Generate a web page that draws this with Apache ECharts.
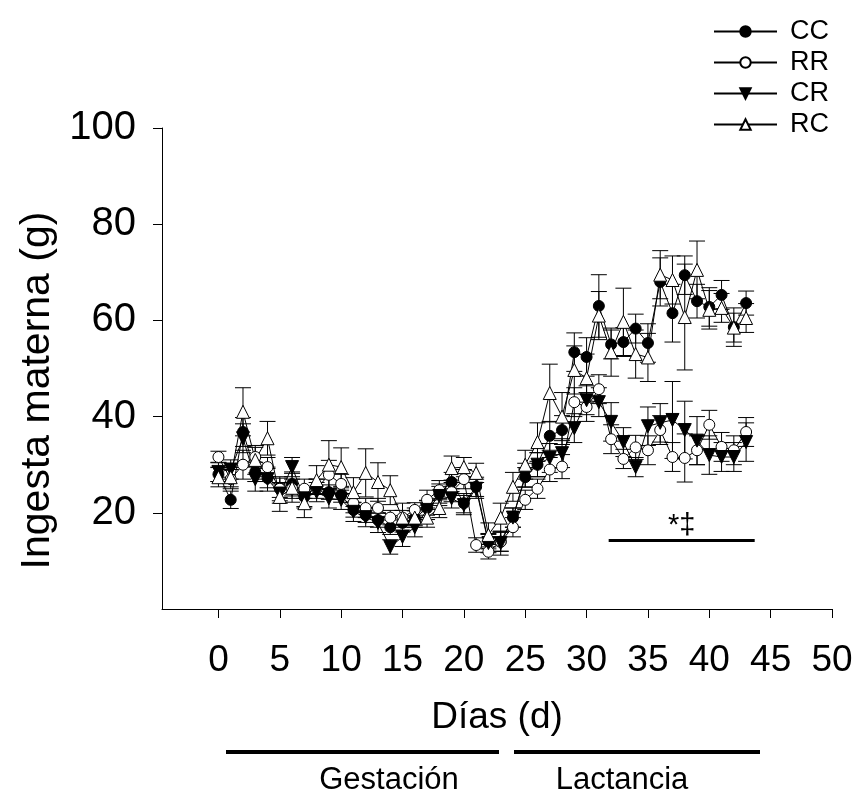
<!DOCTYPE html>
<html>
<head>
<meta charset="utf-8">
<script src="https://cdn.jsdelivr.net/npm/echarts@6/dist/echarts.min.js"></script>
<style>
  html, body { margin: 0; padding: 0; background: #fff; }
  #main { width: 858px; height: 797px; }
</style>
</head>
<body>
<div id="main"></div>
<script>
// days of measurement
var days = [];
for (var d = 0; d <= 43; d++) { days.push(d); }

// mean maternal intake (g) per group
var ccVals = [28, 22.7, 36.8, 28.5, 27.2, 25.2, 26, 23.3, 25.5, 24.3, 23.7, 20.6, 19.5, 18.5, 17, 17.9, 18.9, 21, 24, 26.4, 22, 25.4, 14, 14,
    19, 27.4, 30, 36, 37.2, 53.4, 52.4, 63, 55, 55.5, 58.3, 55.3, 68, 61.5, 69.4, 64, 62.8, 65.3, 58.6, 63.6];
var rrVals = [31.6, 27, 30, 31.6, 29.5, 25, 25, 25, 25, 27.9, 26, 22, 21, 21, 19, 19, 20.6, 22.7, 24.7, 24.3, 27, 13.3, 11.9, 14,
    17, 22.7, 25, 29, 29.6, 43, 42, 45.7, 35.3, 31.2, 33.6, 33, 37.2, 31.6, 31.4, 33, 38.3, 33.7, 33, 36.8];
var crVals = [28.5, 29, 35.5, 27, 27, 24, 29.5, 23, 24.3, 23, 22.7, 20.2, 19.1, 17.9, 12.9, 15, 17, 20.6, 23.5, 23, 21.6, 25, 13.7, 13.7,
    19, 27.8, 30, 31.4, 32.4, 37.6, 43.4, 43, 38.9, 34.7, 29.5, 38, 38.7, 39.3, 37.2, 35, 32, 31.6, 31.6, 34.7];
var rcVals = [27.4, 27.4, 41, 31, 35.5, 23.3, 25.2, 22, 26.8, 30, 29.5, 24.3, 28.3, 26.4, 24.7, 19, 19, 19, 21, 29.3, 29.5, 28.3, 15.4, 19,
    25.4, 30, 34.7, 44.9, 40, 49.7, 48, 61, 53.4, 59.7, 53, 52.3, 69.5, 68.4, 60.7, 70.5, 62.2, 62.6, 58.5, 60.5];

// standard errors
var ccErr = [1.5, 1.8, 3, 2, 2, 2, 2.5, 2, 1.5, 1.5, 1.5, 1.5, 1.5, 1.5, 1.5, 1.5, 1.5, 1.5, 2, 2, 2, 2, 1.5, 2,
    2, 2, 2.5, 3, 3, 4, 4, 6.5, 3, 3, 3, 4, 5, 6, 4, 3.5, 4, 3, 4, 2.5];
var rrErr = [1.2, 2, 3, 2, 2, 2.5, 2, 2, 2, 3, 2, 2, 2, 2, 1.5, 1.5, 1.5, 2, 2, 2, 2, 1.5, 1.5, 2,
    2, 2, 2, 2.5, 2.5, 3, 3, 3, 3, 2, 2.5, 3, 3, 3, 5, 3, 3, 3, 3, 3];
var crErr = [2, 2, 3, 2.5, 2.5, 2, 2, 2, 2, 2, 2, 2, 2, 2, 1.5, 2, 2, 2, 2, 2, 2, 2, 2, 2.5,
    2, 2.5, 2.5, 3, 3, 3, 3, 3, 4, 3, 2, 4, 4, 8, 6, 5, 4, 3, 3, 4];
var rcErr = [2, 2, 5, 3, 3.5, 3, 3, 3, 3, 5, 4, 3, 5, 4, 3, 3, 2, 2, 2, 2.5, 2, 2, 2.5, 3,
    3, 3, 4, 6, 5, 5, 5, 5, 5, 7, 5, 5, 5, 5, 11, 6, 4, 3, 3, 3];

var xTicks = [0, 5, 10, 15, 20, 25, 30, 35, 40, 45, 50];
var yTicks = [20, 40, 60, 80, 100];
var groups = ['CC', 'RR', 'CR', 'RC'];

var FONT = 'Liberation Sans, Arial, sans-serif';

var pairs = function (vals) {
    return days.map(function (d, i) { return [d, vals[i]]; });
};
var errRows = function (vals, errs) {
    return days.map(function (d, i) { return [d, vals[i] - errs[i], vals[i] + errs[i]]; });
};

var errorSeries = function (name, vals, errs) {
    return {
        type: 'custom',
        name: name + '_err',
        z: 1,
        silent: true,
        data: errRows(vals, errs),
        renderItem: function (params, api) {
            var lo = api.coord([api.value(0), api.value(1)]);
            var hi = api.coord([api.value(0), api.value(2)]);
            var w = 8;
            var st = { stroke: '#000', lineWidth: 1 };
            return {
                type: 'group',
                children: [
                    { type: 'line', shape: { x1: hi[0], y1: hi[1], x2: lo[0], y2: lo[1] }, style: st },
                    { type: 'line', shape: { x1: hi[0] - w, y1: hi[1], x2: hi[0] + w, y2: hi[1] }, style: st },
                    { type: 'line', shape: { x1: lo[0] - w, y1: lo[1], x2: lo[0] + w, y2: lo[1] }, style: st }
                ]
            };
        }
    };
};

var lineSeries = function (name, vals, symbol, rotate, fill, size) {
    return {
        type: 'line',
        name: name,
        z: 3,
        data: pairs(vals),
        symbol: symbol,
        symbolSize: size,
        symbolRotate: rotate,
        showAllSymbol: true,
        lineStyle: { color: '#000', width: 1 },
        itemStyle: { color: fill, borderColor: '#000', borderWidth: 1 },
        emphasis: { disabled: true }
    };
};

var chart = echarts.init(document.getElementById('main'));

var rcLine = lineSeries('RC', rcVals, 'triangle', 0, '#fff', 13);
rcLine.markLine = {
    silent: true,
    symbol: 'none',
    lineStyle: { color: '#000', width: 3, type: 'solid' },
    label: {
        show: true,
        position: 'middle',
        formatter: '*\u2021',
        color: '#000',
        fontFamily: FONT,
        fontSize: 29,
        distance: 0
    },
    data: [[{ coord: [31.8, 14.3] }, { coord: [43.7, 14.3] }]]
};

var option = {
    backgroundColor: '#fff',
    animation: false,
    grid: { left: 162, right: 26, top: 128, bottom: 188, containLabel: false, outerBoundsMode: 'none' },
    legend: {
        data: groups,
        orient: 'vertical',
        left: 708,
        top: 13,
        itemWidth: 63,
        itemHeight: 13,
        itemGap: 4,
        selectedMode: false,
        textStyle: { color: '#000', fontFamily: FONT, fontSize: 27, padding: [0, 0, 0, 8] }
    },
    xAxis: {
        type: 'value',
        min: -4.6,
        max: 50,
        splitLine: { show: false },
        axisLine: { onZero: false, lineStyle: { color: '#000', width: 1 } },
        axisTick: { customValues: xTicks, length: 9, lineStyle: { color: '#000' } },
        axisLabel: { customValues: xTicks, margin: 33, color: '#000', fontFamily: FONT, fontSize: 37 },
        name: 'Días (d)',
        nameLocation: 'middle',
        nameGap: 90,
        nameTextStyle: { color: '#000', fontFamily: FONT, fontSize: 37 }
    },
    yAxis: {
        type: 'value',
        min: 0,
        max: 100,
        splitLine: { show: false },
        axisLine: { show: true, onZero: false, lineStyle: { color: '#000', width: 1 } },
        axisTick: { show: true, customValues: yTicks, length: 9, lineStyle: { color: '#000' } },
        axisLabel: { customValues: yTicks, margin: 26, color: '#000', fontFamily: FONT, fontSize: 40 },
        name: 'Ingesta materna (g)',
        nameLocation: 'middle',
        nameGap: 103,
        nameRotate: 90,
        nameTextStyle: { color: '#000', fontFamily: FONT, fontSize: 41, padding: [0, 44, 0, 0] }
    },
    graphic: [
        { type: 'line', shape: { x1: 226, y1: 752, x2: 499, y2: 752 }, style: { stroke: '#000', lineWidth: 4 } },
        { type: 'line', shape: { x1: 514, y1: 752, x2: 760, y2: 752 }, style: { stroke: '#000', lineWidth: 4 } },
        { type: 'text', x: 389, y: 780, style: { text: 'Gestación', fill: '#000', font: '31px ' + FONT, textAlign: 'center', textVerticalAlign: 'middle' } },
        { type: 'text', x: 622, y: 780, style: { text: 'Lactancia', fill: '#000', font: '31px ' + FONT, textAlign: 'center', textVerticalAlign: 'middle' } }
    ],
    series: [
        errorSeries('CC', ccVals, ccErr),
        errorSeries('RR', rrVals, rrErr),
        errorSeries('CR', crVals, crErr),
        errorSeries('RC', rcVals, rcErr),
        lineSeries('CC', ccVals, 'circle', 0, '#000', 11),
        lineSeries('RR', rrVals, 'circle', 0, '#fff', 11),
        lineSeries('CR', crVals, 'triangle', 180, '#000', 13),
        rcLine
    ]
};
chart.setOption(option);
</script>
</body>
</html>
